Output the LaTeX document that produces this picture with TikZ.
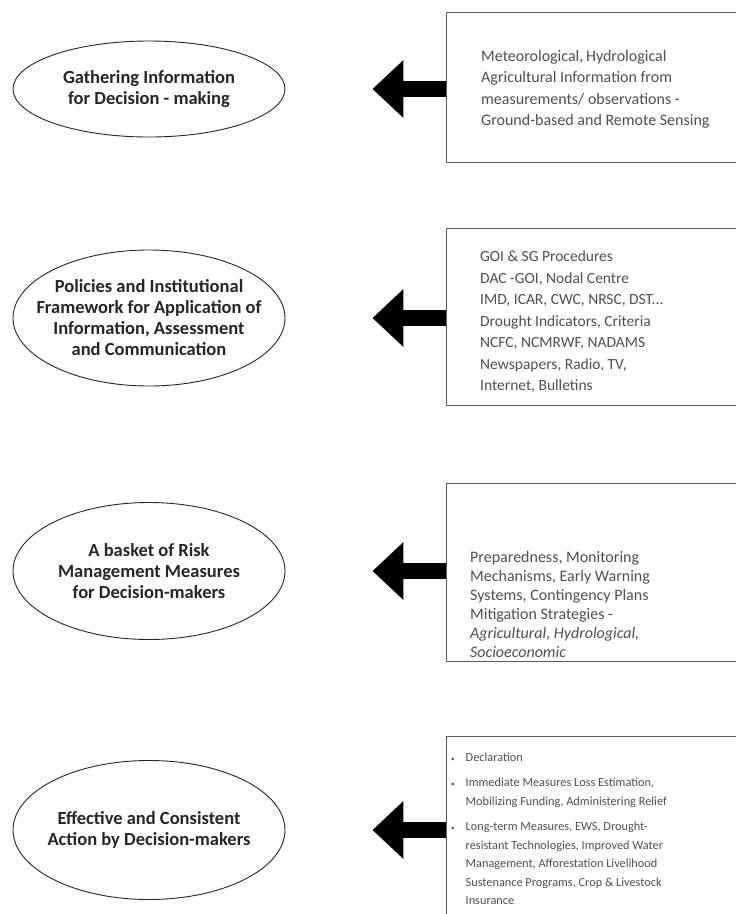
\documentclass[tikz,border=0pt]{standalone}
\usepackage{fontspec}
\setmainfont{Carlito}
\usepackage{tikz}
\usetikzlibrary{shapes.geometric, positioning, arrows.meta}
\usepackage{xcolor}
\definecolor{boxline}{HTML}{5A5A5A}
\definecolor{boxtext}{HTML}{505050}
\definecolor{stagetext}{HTML}{262626}

\begin{document}
\begin{tikzpicture}[x=1pt, y=-1pt,
    stage/.style={ellipse, draw=stagetext, line width=0.9pt, minimum width=272pt, inner xsep=-18pt, inner ysep=0pt, align=center, text=stagetext, font=\fontsize{18.5}{21}\selectfont\bfseries},
    srcbox/.style={rectangle, draw=boxline, line width=1pt, minimum width=300pt, anchor=north west},
    srctext/.style={anchor=north west, inner sep=0pt, align=left, text=boxtext, font=\fontsize{15.5}{21.5}\selectfont},
    bigarrow/.style={line width=16pt, -{Triangle[length=31pt, width=56pt]}, shorten >=87pt}]

      \useasboundingbox (0, 0) rectangle (736, 914);
      \fill[white] (0, 0) rectangle (736, 914);

      \node[stage, minimum height=96pt] (gather) at (149, 89) {Gathering Information\\for Decision - making};
      \node[stage, minimum height=136pt] (policy) at (149, 318) {Policies and Institutional\\Framework for Application of\\Information, Assessment\\and Communication};
      \node[stage, minimum height=137pt] (basket) at (149, 571) {A basket of Risk\\Management Measures\\for Decision-makers};
      \node[stage, minimum height=139pt] (action) at (149, 830) {Effective and Consistent\\Action by Decision-makers};

      \node[srcbox, minimum height=150pt] (gatherbox) at (446, 12) {};
      \node[srcbox, minimum height=177pt] (policybox) at (446, 228) {};
      \node[srcbox, minimum height=178pt] (basketbox) at (446, 483) {};
      \node[srcbox, minimum height=200pt] (actionbox) at (446, 736) {};

      \node[srctext, font=\fontsize{16}{21.5}\selectfont] (gathertxt) at (481, 50) {Meteorological,\,Hydrological\\Agricultural Information from\\measurements/ observations -\\Ground-based and Remote Sensing};
      \node[srctext] (policytxt) at (480, 251) {GOI \& SG Procedures\\DAC -GOI, Nodal Centre\\IMD, ICAR, CWC, NRSC, DST...\\Drought Indicators, Criteria\\NCFC, NCMRWF, NADAMS\\Newspapers, Radio, TV,\\Internet, Bulletins};
      \node[srctext, font=\fontsize{16}{19}\selectfont] (baskettxt) at (470, 551) {Preparedness, Monitoring\\Mechanisms, Early Warning\\Systems, Contingency Plans\\Mitigation Strategies -\\\textit{Agricultural, Hydrological,}\\\textit{Socioeconomic}};
      \node[srctext, font=\fontsize{12.3}{18.5}\selectfont] (actiontxt) at (451, 748) {%
        \begin{tabular}{@{}l@{\hspace{11pt}}l@{}}
          {\fontsize{7}{7}\selectfont\textbullet} & Declaration\\[7pt]
          {\fontsize{7}{7}\selectfont\textbullet} & Immediate Measures Loss Estimation,\\
           & Mobilizing Funding, Administering Relief\\[7pt]
          {\fontsize{7}{7}\selectfont\textbullet} & Long-term Measures, EWS, Drought-\\
           & resistant Technologies, Improved Water\\
           & Management, Afforestation Livelihood\\
           & Sustenance Programs, Crop \& Livestock\\
           & Insurance
        \end{tabular}};

      \draw[bigarrow] (gather.east -| gatherbox.west) -- (gather.east);
      \draw[bigarrow] (policy.east -| policybox.west) -- (policy.east);
      \draw[bigarrow] (basket.east -| basketbox.west) -- (basket.east);
      \draw[bigarrow] (action.east -| actionbox.west) -- (action.east);

    \end{tikzpicture}
\end{document}
